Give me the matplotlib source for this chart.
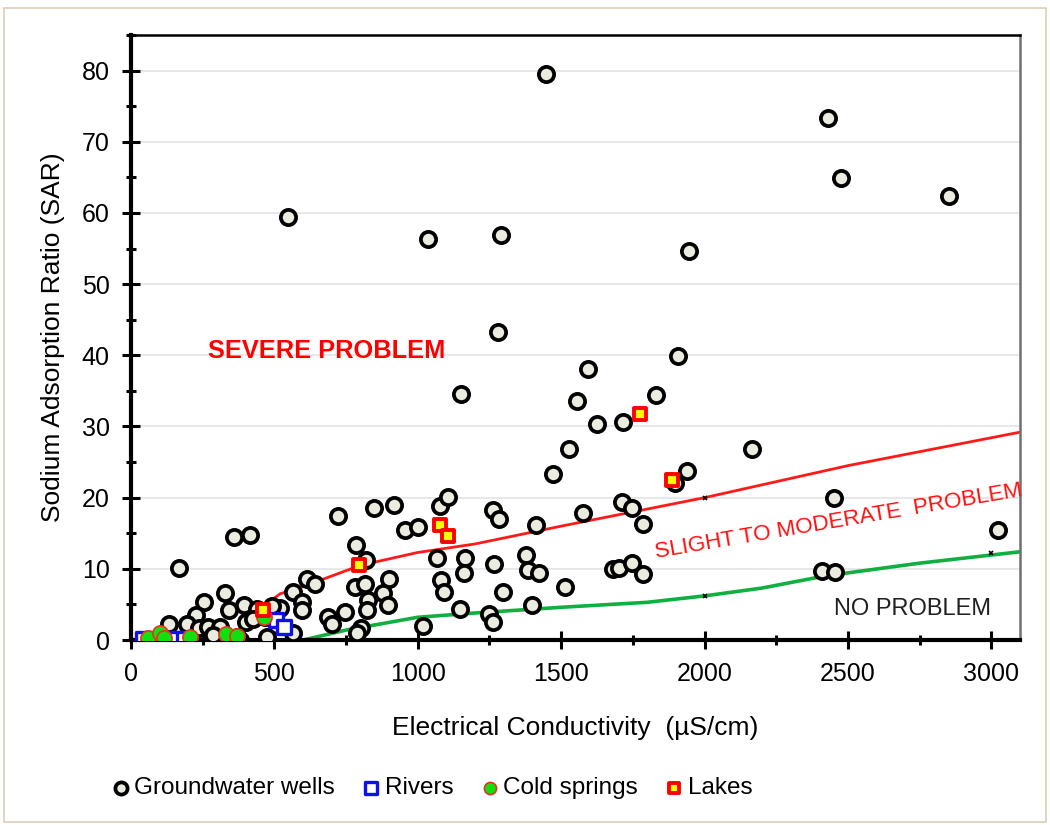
import matplotlib
matplotlib.use('Agg')
from matplotlib import pyplot as plt
from matplotlib.patches import Rectangle
from matplotlib.ticker import MultipleLocator
import numpy as np

plt.rcParams['font.family'] = ['Liberation Sans', 'DejaVu Sans']

# groundwater wells (EC uS/cm, SAR)
gw_ec = [548, 1036, 1291, 1448, 1281, 1152, 2432, 2477, 2851, 1947, 1909, 1595, 1832,
         1556, 1626, 1717, 1528, 2167, 1472, 1940, 1898, 2453, 3025,
         1262, 1284, 1413, 1577, 1713, 1747, 1784,
         1267, 1378, 1386, 1423, 1514, 1298, 1399, 1249, 1262,
         1682, 1703, 1748, 1786, 2411, 2456,
         168, 359, 415, 722, 848, 918, 1078, 1106, 956, 1001, 785, 820, 1068, 1166,
         1082, 1092, 1162, 1148, 782, 817, 900, 880, 827, 823, 897, 614, 642, 565,
         597, 597, 687, 701, 747, 802, 788, 1019,
         255, 227, 133, 195, 237, 269, 328, 342, 394, 401, 311, 440, 520, 468, 565,
         474, 380, 369, 286, 426, 492]
gw_sar = [59.4, 56.3, 56.9, 79.5, 43.3, 34.6, 73.3, 64.9, 62.4, 54.6, 39.9, 38.1, 34.4,
          33.6, 30.3, 30.6, 26.8, 26.8, 23.3, 23.7, 22.1, 19.9, 15.4,
          18.3, 17.0, 16.1, 17.9, 19.4, 18.5, 16.3,
          10.7, 11.9, 9.8, 9.4, 7.4, 6.7, 4.9, 3.6, 2.5,
          10.0, 10.1, 10.8, 9.3, 9.7, 9.5,
          10.1, 14.5, 14.7, 17.4, 18.5, 19.0, 18.8, 20.1, 15.5, 15.9, 13.3, 11.2, 11.5, 11.5,
          8.4, 6.7, 9.4, 4.4, 7.5, 7.9, 8.6, 6.6, 5.6, 4.2, 4.9, 8.6, 7.9, 6.7,
          5.4, 4.2, 3.3, 2.2, 3.9, 1.7, 1.0, 2.0,
          5.3, 3.5, 2.2, 2.2, 1.7, 1.8, 6.6, 4.2, 4.9, 2.5, 1.8, 4.4, 4.5, 3.2, 1.0,
          0.4, 0.0, 0.4, 0.7, 2.9, 4.8]

river_ec = [42, 70, 100, 130, 157, 185, 506, 534]
river_sar = [0.2, 0.2, 0.2, 0.2, 0.2, 0.2, 2.8, 1.8]

spring_ec = [59, 101, 115, 206, 331, 370, 462]
spring_sar = [0.3, 1.0, 0.3, 0.4, 0.8, 0.5, 3.3]

lake_ec = [461, 795, 1079, 1106, 1776, 1888]
lake_sar = [4.2, 10.6, 16.2, 14.6, 31.7, 22.5]

# boundary curves
severe_ec = [360, 420, 470, 520, 600, 800, 1000, 1200, 1500, 2000, 2500, 3100]
severe_sar = [1.0, 3.0, 5.0, 6.5, 7.5, 10.5, 12.3, 13.5, 16.0, 20.0, 24.5, 29.2]
none_ec = [600, 750, 1000, 1200, 1500, 1800, 2000, 2200, 2420, 2750, 3100]
none_sar = [0.0, 1.4, 3.2, 3.8, 4.6, 5.3, 6.2, 7.3, 9.0, 10.8, 12.4]
mark_ec = [2000, 2000, 3000]
mark_sar = [20.0, 6.2, 12.2]

fig = plt.figure(figsize=(10.5, 8.25), dpi=100)
ax = fig.add_axes([0.1248, 0.2242, 0.8466, 0.7334])

ax.grid(axis='y', color='#e4e4e4', lw=1.2, zorder=0)
ax.set_axisbelow(True)

ax.plot(severe_ec, severe_sar, color='#ff1a1a', lw=2.0, zorder=2)
ax.plot(none_ec, none_sar, color='#10b040', lw=2.6, zorder=2)
ax.plot(mark_ec, mark_sar, ls='none', marker='x', color='black', ms=3, mew=1.2, zorder=2)

ax.scatter(gw_ec, gw_sar, s=120, c='#ecebe0', edgecolors='black', linewidths=2.7,
           zorder=3, label='Groundwater wells')
ax.scatter(river_ec, river_sar, s=110, marker='s', c='white', edgecolors='#1010ee',
           linewidths=2.4, zorder=4, label='Rivers')
ax.scatter(spring_ec, spring_sar, s=120, c='#10e010', edgecolors='#f03020',
           linewidths=1.2, zorder=5, label='Cold springs')
ax.scatter(lake_ec, lake_sar, s=85, marker='s', c='#ffff00', edgecolors='#ff0000',
           linewidths=2.8, zorder=6, label='Lakes')

ax.text(269, 40.6, 'SEVERE PROBLEM', color='#ff0000', fontsize=18.3, fontweight='bold',
        ha='left', va='center', zorder=7)
ax.text(2467, 16.7, 'SLIGHT TO MODERATE  PROBLEM', color='#ff1010', fontsize=16.2,
        rotation=9.6, ha='center', va='center', rotation_mode='anchor', zorder=7)
ax.text(2725, 4.3, 'NO PROBLEM', color='#202020', fontsize=17,
        ha='center', va='center', zorder=7)

ax.set_xlim(0, 3100)
ax.set_ylim(0, 85)
ax.xaxis.set_major_locator(MultipleLocator(500))
ax.xaxis.set_minor_locator(MultipleLocator(250))
ax.yaxis.set_major_locator(MultipleLocator(10))
ax.yaxis.set_minor_locator(MultipleLocator(5))
ax.tick_params(which='major', direction='inout', length=13, width=2.2, labelsize=18,
               colors='black')
ax.tick_params(axis='y', which='major', pad=9)
ax.tick_params(axis='x', which='major', pad=9)
ax.tick_params(which='minor', direction='inout', length=7, width=2.2)

for side in ['left', 'bottom']:
    ax.spines[side].set_linewidth(3.0)
    ax.spines[side].set_color('black')
ax.spines['top'].set_linewidth(1.8)
ax.spines['top'].set_color('black')
ax.spines['right'].set_linewidth(1.8)
ax.spines['right'].set_color('#707070')

ax.set_xlabel('Electrical Conductivity  (\u00b5S/cm)', fontsize=19, labelpad=22)
ax.set_ylabel('Sodium Adsorption Ratio (SAR)', fontsize=19, labelpad=12)

fig.legend(loc='center', bbox_to_anchor=(0.41, 0.045), ncol=4, frameon=False,
           fontsize=17.5, handletextpad=0.05, columnspacing=1.0, handlelength=1.0,
           markerscale=0.8, borderaxespad=0)

fig.patches.append(Rectangle((4 / 1050, 3 / 825), 1042 / 1050, 814 / 825,
                             transform=fig.transFigure, fill=False,
                             edgecolor='#dfcdb8', lw=1.2))

fig.savefig('out.png', dpi=100)
